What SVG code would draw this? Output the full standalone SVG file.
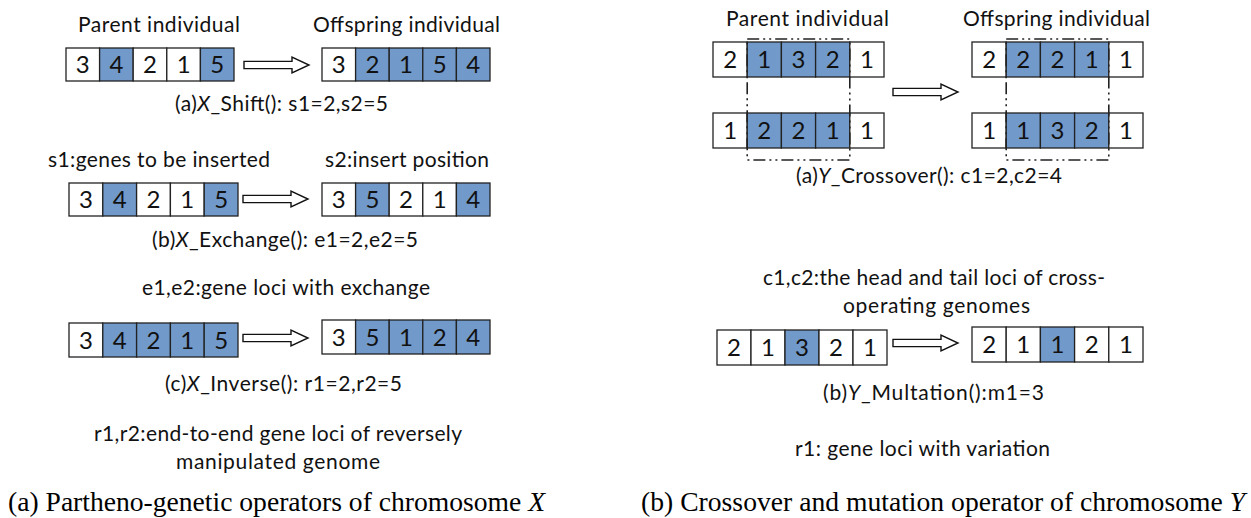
<svg xmlns="http://www.w3.org/2000/svg" width="1251" height="518" viewBox="0 0 1251 518">
<style>
.bg{fill:#ffffff}
.w{fill:#ffffff;stroke:#222;stroke-width:1.3}
.b{fill:#7199c9;stroke:#222;stroke-width:1.3}
.d{font-family:Lato,"Liberation Sans",sans-serif;font-size:24px;fill:#111;text-anchor:middle}
.t{font-family:Lato,"Liberation Sans",sans-serif;font-size:21px;fill:#111}
.cap{font-family:"Liberation Serif","Times New Roman",serif;font-size:27.6px;fill:#000}
.i{font-style:italic}
.arrow{fill:#fff;stroke:#111;stroke-width:1.4;stroke-linejoin:miter}
.dd{fill:none;stroke:#222;stroke-width:1.6;stroke-dasharray:12 4 2 4 2 4}
</style>
<defs>
<path id="blk" d="M0,-3.6 H48 V-8 L65,0 L48,8 V3.6 H0 Z"/>
</defs>
<rect class="bg" x="0" y="0" width="1251" height="518"/>

<!-- Left panel: X_Shift -->
<g id="x-shift-parent">
<rect class="w" x="66" y="48" width="33.6" height="33"/><rect class="b" x="99.6" y="48" width="33.6" height="33"/><rect class="w" x="133.2" y="48" width="33.6" height="33"/><rect class="w" x="166.8" y="48" width="33.6" height="33"/><rect class="b" x="200.4" y="48" width="33.6" height="33"/>
<text class="d" x="82.8" y="73">3</text><text class="d" x="116.4" y="73">4</text><text class="d" x="150" y="73">2</text><text class="d" x="183.6" y="73">1</text><text class="d" x="217.2" y="73">5</text>
</g>
<g id="x-shift-offspring">
<rect class="w" x="322" y="48" width="33.6" height="33"/><rect class="b" x="355.6" y="48" width="33.6" height="33"/><rect class="b" x="389.2" y="48" width="33.6" height="33"/><rect class="b" x="422.8" y="48" width="33.6" height="33"/><rect class="b" x="456.4" y="48" width="33.6" height="33"/>
<text class="d" x="338.8" y="73">3</text><text class="d" x="372.4" y="73">2</text><text class="d" x="406" y="73">1</text><text class="d" x="439.6" y="73">5</text><text class="d" x="473.2" y="73">4</text>
</g>

<!-- Left panel: X_Exchange -->
<g id="x-exchange-parent">
<rect class="w" x="69" y="183" width="33.8" height="33"/><rect class="b" x="102.8" y="183" width="33.8" height="33"/><rect class="w" x="136.6" y="183" width="33.8" height="33"/><rect class="w" x="170.4" y="183" width="33.8" height="33"/><rect class="b" x="204.2" y="183" width="33.8" height="33"/>
<text class="d" x="85.9" y="208">3</text><text class="d" x="119.7" y="208">4</text><text class="d" x="153.5" y="208">2</text><text class="d" x="187.3" y="208">1</text><text class="d" x="221.1" y="208">5</text>
</g>
<g id="x-exchange-offspring">
<rect class="w" x="322" y="183" width="33.6" height="33"/><rect class="b" x="355.6" y="183" width="33.6" height="33"/><rect class="w" x="389.2" y="183" width="33.6" height="33"/><rect class="w" x="422.8" y="183" width="33.6" height="33"/><rect class="b" x="456.4" y="183" width="33.6" height="33"/>
<text class="d" x="338.8" y="208">3</text><text class="d" x="372.4" y="208">5</text><text class="d" x="406" y="208">2</text><text class="d" x="439.6" y="208">1</text><text class="d" x="473.2" y="208">4</text>
</g>

<!-- Left panel: X_Inverse -->
<g id="x-inverse-parent">
<rect class="w" x="69" y="323" width="33.8" height="34"/><rect class="b" x="102.8" y="323" width="33.8" height="34"/><rect class="b" x="136.6" y="323" width="33.8" height="34"/><rect class="b" x="170.4" y="323" width="33.8" height="34"/><rect class="b" x="204.2" y="323" width="33.8" height="34"/>
<text class="d" x="85.9" y="348.5">3</text><text class="d" x="119.7" y="348.5">4</text><text class="d" x="153.5" y="348.5">2</text><text class="d" x="187.3" y="348.5">1</text><text class="d" x="221.1" y="348.5">5</text>
</g>
<g id="x-inverse-offspring">
<rect class="w" x="322" y="320" width="33.6" height="34"/><rect class="b" x="355.6" y="320" width="33.6" height="34"/><rect class="b" x="389.2" y="320" width="33.6" height="34"/><rect class="b" x="422.8" y="320" width="33.6" height="34"/><rect class="b" x="456.4" y="320" width="33.6" height="34"/>
<text class="d" x="338.8" y="345.5">3</text><text class="d" x="372.4" y="345.5">5</text><text class="d" x="406" y="345.5">1</text><text class="d" x="439.6" y="345.5">2</text><text class="d" x="473.2" y="345.5">4</text>
</g>

<!-- Right panel: Y_Crossover -->
<g id="y-cross-parent1">
<rect class="w" x="713" y="42" width="34.2" height="35"/><rect class="b" x="747.2" y="42" width="34.2" height="35"/><rect class="b" x="781.4" y="42" width="34.2" height="35"/><rect class="b" x="815.6" y="42" width="34.2" height="35"/><rect class="w" x="849.8" y="42" width="34.2" height="35"/>
<text class="d" x="730.1" y="68">2</text><text class="d" x="764.3" y="68">1</text><text class="d" x="798.5" y="68">3</text><text class="d" x="832.7" y="68">2</text><text class="d" x="866.9" y="68">1</text>
</g>
<g id="y-cross-parent2">
<rect class="w" x="713" y="113" width="34.2" height="35"/><rect class="b" x="747.2" y="113" width="34.2" height="35"/><rect class="b" x="781.4" y="113" width="34.2" height="35"/><rect class="b" x="815.6" y="113" width="34.2" height="35"/><rect class="w" x="849.8" y="113" width="34.2" height="35"/>
<text class="d" x="730.1" y="139">1</text><text class="d" x="764.3" y="139">2</text><text class="d" x="798.5" y="139">2</text><text class="d" x="832.7" y="139">1</text><text class="d" x="866.9" y="139">1</text>
</g>
<g id="y-cross-offspring1">
<rect class="w" x="972" y="42" width="34.2" height="35"/><rect class="b" x="1006.2" y="42" width="34.2" height="35"/><rect class="b" x="1040.4" y="42" width="34.2" height="35"/><rect class="b" x="1074.6" y="42" width="34.2" height="35"/><rect class="w" x="1108.8" y="42" width="34.2" height="35"/>
<text class="d" x="989.1" y="68">2</text><text class="d" x="1023.3" y="68">2</text><text class="d" x="1057.5" y="68">2</text><text class="d" x="1091.7" y="68">1</text><text class="d" x="1125.9" y="68">1</text>
</g>
<g id="y-cross-offspring2">
<rect class="w" x="972" y="113" width="34.2" height="35"/><rect class="b" x="1006.2" y="113" width="34.2" height="35"/><rect class="b" x="1040.4" y="113" width="34.2" height="35"/><rect class="b" x="1074.6" y="113" width="34.2" height="35"/><rect class="w" x="1108.8" y="113" width="34.2" height="35"/>
<text class="d" x="989.1" y="139">1</text><text class="d" x="1023.3" y="139">1</text><text class="d" x="1057.5" y="139">3</text><text class="d" x="1091.7" y="139">2</text><text class="d" x="1125.9" y="139">1</text>
</g>
<g id="cross-section-parent"><rect class="dd" x="747.2" y="39" width="102.6" height="121"/></g>
<g id="cross-section-offspring"><rect class="dd" x="1006.2" y="39" width="102.6" height="121"/></g>

<!-- Right panel: Y_Multation -->
<g id="y-mut-parent">
<rect class="w" x="717" y="330" width="34" height="35"/><rect class="w" x="751" y="330" width="34" height="35"/><rect class="b" x="785" y="330" width="34" height="35"/><rect class="w" x="819" y="330" width="34" height="35"/><rect class="w" x="853" y="330" width="34" height="35"/>
<text class="d" x="734" y="356">2</text><text class="d" x="768" y="356">1</text><text class="d" x="802" y="356">3</text><text class="d" x="836" y="356">2</text><text class="d" x="870" y="356">1</text>
</g>
<g id="y-mut-offspring">
<rect class="w" x="972" y="327" width="34.2" height="35"/><rect class="w" x="1006.2" y="327" width="34.2" height="35"/><rect class="b" x="1040.4" y="327" width="34.2" height="35"/><rect class="w" x="1074.6" y="327" width="34.2" height="35"/><rect class="w" x="1108.8" y="327" width="34.2" height="35"/>
<text class="d" x="989.1" y="353">2</text><text class="d" x="1023.3" y="353">1</text><text class="d" x="1057.5" y="353">1</text><text class="d" x="1091.7" y="353">2</text><text class="d" x="1125.9" y="353">1</text>
</g>

<!-- Connectors -->
<g id="connectors">
<use href="#blk" class="arrow" transform="translate(244,65)"/>
<use href="#blk" class="arrow" transform="translate(243,199)"/>
<use href="#blk" class="arrow" transform="translate(243,338)"/>
<use href="#blk" class="arrow" transform="translate(893,92)"/>
<use href="#blk" class="arrow" transform="translate(893,343)"/>
</g>

<!-- Labels -->
<g id="labels">
<text class="t" x="78" y="32" textLength="162">Parent individual</text>
<text class="t" x="313" y="32" textLength="187">Offspring individual</text>
<text class="t" x="175" y="111" textLength="213">(a)<tspan class="i">X</tspan>_Shift(): s1=2,s2=5</text>
<text class="t" x="48" y="167" textLength="222">s1:genes to be inserted</text>
<text class="t" x="325" y="167" textLength="164">s2:insert position</text>
<text class="t" x="152" y="247" textLength="266">(b)<tspan class="i">X</tspan>_Exchange(): e1=2,e2=5</text>
<text class="t" x="142" y="295" textLength="288">e1,e2:gene loci with exchange</text>
<text class="t" x="165" y="391" textLength="237">(c)<tspan class="i">X</tspan>_Inverse(): r1=2,r2=5</text>
<text class="t" x="94" y="441" textLength="368">r1,r2:end-to-end gene loci of reversely</text>
<text class="t" x="176" y="469" textLength="204">manipulated genome</text>
<text class="t" x="726" y="26" textLength="163">Parent individual</text>
<text class="t" x="963" y="26" textLength="187">Offspring individual</text>
<text class="t" x="796" y="183" textLength="266">(a)<tspan class="i">Y</tspan>_Crossover(): c1=2,c2=4</text>
<text class="t" x="763" y="285" textLength="342">c1,c2:the head and tail loci of cross-</text>
<text class="t" x="843" y="313" textLength="187">operating genomes</text>
<text class="t" x="823" y="400" textLength="221">(b)<tspan class="i">Y</tspan>_Multation():m1=3</text>
<text class="t" x="795" y="456" textLength="255">r1: gene loci with variation</text>
<text class="cap" x="8" y="511" textLength="537">(a) Partheno-genetic operators of chromosome <tspan class="i">X</tspan></text>
<text class="cap" x="641" y="511" textLength="604">(b) Crossover and mutation operator of chromosome <tspan class="i">Y</tspan></text>
</g>
</svg>
